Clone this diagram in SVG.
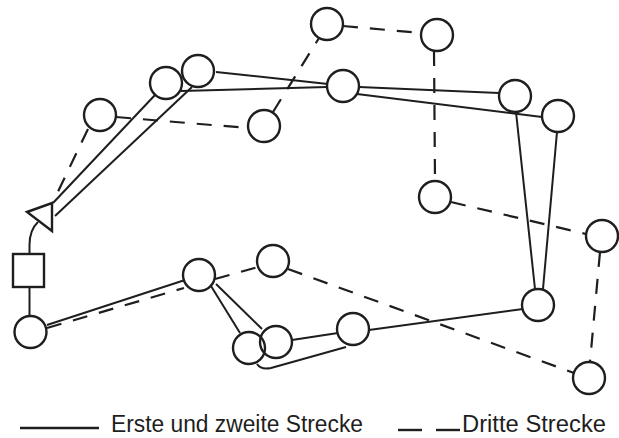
<svg xmlns="http://www.w3.org/2000/svg" width="619" height="438" viewBox="0 0 619 438">
<style>
.n{fill:none;stroke:#1e1e1e;stroke-width:2.4}
.s{fill:none;stroke:#1e1e1e;stroke-width:2;stroke-linecap:butt}
.d{fill:none;stroke:#1e1e1e;stroke-width:2.2;stroke-dasharray:15 12}
.t{font-family:"Liberation Sans",Arial,sans-serif;font-size:23px;fill:#1e1e1e}
</style>
<rect width="619" height="438" fill="#ffffff"/>
<g id="connectors">
<line class="s" x1="53" y1="203" x2="155" y2="95"/>
<line class="s" x1="55" y1="216" x2="192" y2="87"/>
<line class="s" x1="181" y1="91" x2="327" y2="87"/>
<line class="s" x1="216" y1="72" x2="328" y2="84"/>
<line class="s" x1="359" y1="87" x2="499" y2="93"/>
<line class="s" x1="357" y1="94" x2="542" y2="117"/>
<line class="s" x1="516" y1="112" x2="535" y2="289"/>
<line class="s" x1="557" y1="132" x2="543" y2="289"/>
<line class="s" x1="523" y1="309" x2="369" y2="330"/>
<line class="s" x1="338" y1="333" x2="292" y2="340"/>
<path class="s" d="M346 347 L271 368 Q261 370 257 364"/>
<line class="s" x1="211" y1="286" x2="240" y2="333"/>
<line class="s" x1="216" y1="284" x2="262" y2="329"/>
<line class="s" x1="185" y1="280" x2="47" y2="325"/>
<line class="s" x1="29.5" y1="287" x2="29.5" y2="316"/>
<path class="s" d="M38 222 Q29.5 230 29.5 245 L29.5 254"/>
<line class="d" x1="88" y1="129" x2="53" y2="202"/>
<line class="d" x1="116" y1="117" x2="248" y2="128"/>
<line class="d" x1="273" y1="112" x2="319" y2="38"/>
<line class="d" x1="343" y1="26" x2="421" y2="33"/>
<line class="d" x1="434" y1="51" x2="435" y2="181"/>
<line class="d" x1="451" y1="202" x2="586" y2="234"/>
<line class="d" x1="600" y1="252" x2="590" y2="362"/>
<line class="d" x1="288" y1="269" x2="574" y2="373"/>
<line class="d" x1="47" y1="328" x2="184" y2="288"/>
<line class="d" x1="215" y1="279" x2="258" y2="267"/>
</g>
<g id="start"><polygon class="n" points="27,212 52,203 52,231"/></g>
<g id="box"><rect class="n" x="13" y="254" width="31" height="33"/></g>
<g id="A"><circle class="n" cx="100" cy="115" r="16"/></g>
<g id="B"><circle class="n" cx="166" cy="83" r="16"/></g>
<g id="C"><circle class="n" cx="198" cy="71" r="16"/></g>
<g id="D"><circle class="n" cx="264" cy="126" r="16"/></g>
<g id="J"><circle class="n" cx="327" cy="24" r="16"/></g>
<g id="K"><circle class="n" cx="437" cy="35" r="16"/></g>
<g id="L"><circle class="n" cx="343" cy="86" r="16"/></g>
<g id="M"><circle class="n" cx="515" cy="96" r="16"/></g>
<g id="N"><circle class="n" cx="558" cy="116" r="16"/></g>
<g id="O"><circle class="n" cx="435" cy="197" r="16"/></g>
<g id="P"><circle class="n" cx="602" cy="236" r="16"/></g>
<g id="Q"><circle class="n" cx="538" cy="305" r="16"/></g>
<g id="R"><circle class="n" cx="353" cy="329" r="16"/></g>
<g id="S"><circle class="n" cx="589" cy="378" r="16"/></g>
<g id="F"><circle class="n" cx="199" cy="275" r="16"/></g>
<g id="G"><circle class="n" cx="273" cy="261" r="16"/></g>
<g id="H"><circle class="n" cx="249" cy="348" r="16"/></g>
<g id="I"><circle class="n" cx="276" cy="342" r="16"/></g>
<g id="E"><circle class="n" cx="30.5" cy="332" r="16"/></g>
<g id="legend">
<line class="s" x1="20" y1="428" x2="99" y2="428" style="stroke-width:2.4"/>
<text class="t" x="111" y="432" textLength="252" lengthAdjust="spacingAndGlyphs">Erste und zweite Strecke</text>
<line class="s" x1="398" y1="430" x2="422" y2="430" style="stroke-width:2.4"/>
<line class="s" x1="436" y1="430" x2="460" y2="430" style="stroke-width:2.4"/>
<text class="t" x="462" y="432" textLength="144" lengthAdjust="spacingAndGlyphs">Dritte Strecke</text>
</g>
</svg>
